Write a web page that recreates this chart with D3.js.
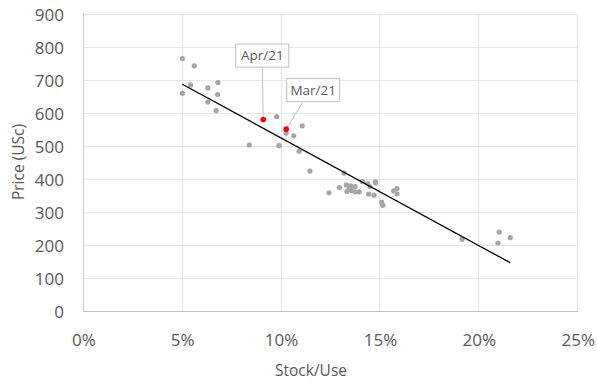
<!DOCTYPE html>
<html>
<head>
<meta charset="utf-8">
<script src="https://cdn.jsdelivr.net/npm/d3@7"></script>
<style>
  html, body { margin: 0; padding: 0; background: #fff; }
  svg { display: block; font-family: "Open Sans", "Noto Sans", sans-serif; }
</style>
</head>
<body>
<svg id="chart" width="597" height="383"></svg>
<script>
// Historical observations: stock-to-use ratio vs price (US cents)
const stockUse = [
  0.0501, 0.0561, 0.0543, 0.0501, 0.0630, 0.0681, 0.0679, 0.0630, 0.0672, 0.0839,
  0.0978, 0.1107, 0.1026, 0.1064, 0.0989, 0.1091, 0.1146, 0.1318, 0.1242, 0.1296,
  0.1330, 0.1345, 0.1333, 0.1357, 0.1353, 0.1375, 0.1374, 0.1395, 0.1411, 0.1438,
  0.1449, 0.1476, 0.1478, 0.1443, 0.1470, 0.1509, 0.1515, 0.1569, 0.1586, 0.1587,
  0.1916, 0.2103, 0.2159, 0.2097
];
const price = [
  766, 744, 686, 661, 677, 693, 657, 634, 608, 504,
  590, 562, 540, 532, 502, 485, 425, 419, 359, 375,
  383, 372, 363, 366, 380, 362, 378, 362, 393, 387,
  378, 393, 389, 355, 352, 331, 321, 365, 372, 356,
  218, 240, 223, 207
];

// Highlighted recent months
const recentLabels = ["Apr/21", "Mar/21"];
const recentStockUse = [0.0910, 0.1026];
const recentPrice = [581, 552];

// Axis ticks
const xTicks = [0, 0.05, 0.10, 0.15, 0.20, 0.25];
const yTicks = [0, 100, 200, 300, 400, 500, 600, 700, 800, 900];

const svg = d3.select("#chart");
const x = d3.scaleLinear().domain([0, 0.25]).range([83.3, 577.7]);
const y = d3.scaleLinear().domain([0, 900]).range([311.3, 14.3]);

const textColor = "#595959";

// Gridlines
svg.append("g").selectAll("line").data(yTicks.slice(1)).join("line")
  .attr("x1", x(0)).attr("x2", x(0.25))
  .attr("y1", d => y(d)).attr("y2", d => y(d))
  .attr("stroke", "#e6e6e6").attr("stroke-width", 1).attr("shape-rendering", "crispEdges");
svg.append("g").selectAll("line").data(xTicks.slice(1)).join("line")
  .attr("x1", d => x(d)).attr("x2", d => x(d))
  .attr("y1", y(0)).attr("y2", y(900))
  .attr("stroke", "#e6e6e6").attr("stroke-width", 1).attr("shape-rendering", "crispEdges");

// Axis lines
svg.append("line").attr("x1", x(0)).attr("x2", x(0.25)).attr("y1", y(0)).attr("y2", y(0))
  .attr("stroke", "#bfbfbf").attr("shape-rendering", "crispEdges");
svg.append("line").attr("x1", x(0)).attr("x2", x(0)).attr("y1", y(0)).attr("y2", y(900))
  .attr("stroke", "#d0d0d0").attr("shape-rendering", "crispEdges");

// Tick labels
const xAxis = d3.axisBottom(x).tickValues(xTicks).tickFormat(d3.format(".0%")).tickSize(0).tickPadding(0);
const gx = svg.append("g").attr("transform", `translate(0,${y(0)})`).call(xAxis);
gx.select(".domain").remove();
gx.selectAll("text").attr("y", 29).attr("dy", "0.35em")
  .attr("fill", textColor).style("font-size", "17px").style("font-family", "'Open Sans', sans-serif");

const yAxis = d3.axisLeft(y).tickValues(yTicks).tickSize(0).tickPadding(0);
const gy = svg.append("g").attr("transform", `translate(64,0)`).call(yAxis);
gy.select(".domain").remove();
gy.selectAll("text").attr("x", 0).attr("dy", "0.35em")
  .attr("fill", textColor).style("font-size", "17px").style("font-family", "'Open Sans', sans-serif");

// Axis titles
svg.append("text").attr("x", 311).attr("y", 375.5).attr("text-anchor", "middle")
  .attr("fill", textColor).style("font-size", "15.5px").text("Stock/Use");
svg.append("text").attr("transform", "translate(24,162) rotate(-90)").attr("text-anchor", "middle")
  .attr("fill", textColor).style("font-size", "15.5px").text("Price (USc)");

// Points
const pts = stockUse.map((s, i) => ({ s, p: price[i] }));
svg.append("g").selectAll("circle").data(pts).join("circle")
  .attr("cx", d => x(d.s)).attr("cy", d => y(d.p)).attr("r", 2.6)
  .attr("fill", "#a5a5a5");

// Linear trendline (least squares) across the observed range
const n = pts.length;
const mx = d3.mean(stockUse), my = d3.mean(price);
let sxy = 0, sxx = 0;
for (let i = 0; i < n; i++) { sxy += (stockUse[i] - mx) * (price[i] - my); sxx += (stockUse[i] - mx) ** 2; }
const slope = sxy / sxx, icpt = my - slope * mx;
const [xmin, xmax] = d3.extent(stockUse);
svg.append("line")
  .attr("x1", x(xmin)).attr("y1", y(icpt + slope * xmin))
  .attr("x2", x(xmax)).attr("y2", y(icpt + slope * xmax))
  .attr("stroke", "#000").attr("stroke-width", 1.3);

// Highlighted months with callouts
const recent = recentLabels.map((l, i) => ({ l, s: recentStockUse[i], p: recentPrice[i] }));
const boxOffsets = [{ dx: -1, dy: -64, lx: -1, ly: -52 }, { dx: 27, dy: -39, lx: 16, ly: -26 }];
const bw = 53, bh = 23;
recent.forEach((d, i) => {
  const px = x(d.s), py = y(d.p), o = boxOffsets[i];
  const cx = px + o.dx, cy = py + o.dy;
  svg.append("line").attr("x1", px + o.lx).attr("y1", py + o.ly).attr("x2", px).attr("y2", py)
    .attr("stroke", "#bfbfbf").attr("stroke-width", 1);
  svg.append("rect").attr("x", cx - bw / 2).attr("y", cy - bh / 2).attr("width", bw).attr("height", bh)
    .attr("fill", "#fff").attr("stroke", "#bfbfbf").attr("stroke-width", 1);
  svg.append("text").attr("x", cx).attr("y", cy).attr("dy", "0.36em").attr("text-anchor", "middle")
    .attr("fill", textColor).style("font-size", "13.5px").text(d.l);
});
svg.append("g").selectAll("circle").data(recent).join("circle")
  .attr("cx", d => x(d.s)).attr("cy", d => y(d.p)).attr("r", 2.8)
  .attr("fill", "#ff0000");
</script>
</body>
</html>
